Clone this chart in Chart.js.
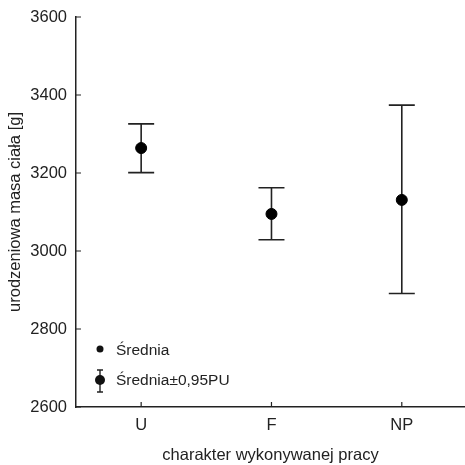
<!DOCTYPE html>
<html lang="pl">
<head>
    <meta charset="UTF-8">
    <title>urodzeniowa masa ciała</title>
    <script src="https://cdn.jsdelivr.net/npm/chart.js"></script>
    <style>
        html, body { margin: 0; padding: 0; background: #fff; }
        #wrap { width: 465px; height: 465px; }
    </style>
</head>
<body>
    <div id="wrap"><canvas id="chart"></canvas></div>

    <script>
        // data
        const categories = ['U', 'F', 'NP'];
        const means = [3264, 3095, 3131];
        const lower = [3201, 3029, 2891];
        const upper = [3326, 3162, 3374];
        const yTicks = [2600, 2800, 3000, 3200, 3400, 3600];

        const FONT = 'Arial, "Liberation Sans", sans-serif';
        const INK = '#222';

        // error bars + inward ticks + legend
        const extras = {
            id: 'extras',
            beforeDatasetsDraw(chart) {
                const ctx = chart.ctx;
                const x = chart.scales.x, y = chart.scales.y;
                ctx.save();
                ctx.strokeStyle = INK;
                ctx.lineWidth = 1.6;
                // error bars
                means.forEach((m, i) => {
                    const px = x.getPixelForValue(i);
                    const lo = y.getPixelForValue(lower[i]);
                    const hi = y.getPixelForValue(upper[i]);
                    ctx.beginPath();
                    ctx.moveTo(px, lo); ctx.lineTo(px, hi);
                    ctx.moveTo(px - 13, lo); ctx.lineTo(px + 13, lo);
                    ctx.moveTo(px - 13, hi); ctx.lineTo(px + 13, hi);
                    ctx.stroke();
                });
                // inward ticks
                ctx.lineWidth = 1.2;
                ctx.beginPath();
                yTicks.forEach(v => {
                    const py = y.getPixelForValue(v);
                    ctx.moveTo(x.left, py); ctx.lineTo(x.left + 5, py);
                });
                categories.forEach((c, i) => {
                    const px = x.getPixelForValue(i);
                    ctx.moveTo(px, y.bottom); ctx.lineTo(px, y.bottom - 5);
                });
                ctx.stroke();
                ctx.restore();
            },
            afterDraw(chart) {
                const ctx = chart.ctx;
                ctx.save();
                ctx.fillStyle = '#111';
                ctx.strokeStyle = INK;
                // legend: mean
                ctx.beginPath();
                ctx.arc(100, 349, 3.5, 0, Math.PI * 2);
                ctx.fill();
                // legend: mean with error bar
                ctx.lineWidth = 1.4;
                ctx.beginPath();
                ctx.moveTo(100, 370); ctx.lineTo(100, 392);
                ctx.moveTo(97, 370); ctx.lineTo(103, 370);
                ctx.moveTo(97, 392); ctx.lineTo(103, 392);
                ctx.stroke();
                ctx.beginPath();
                ctx.arc(100, 380, 5, 0, Math.PI * 2);
                ctx.fill();
                ctx.font = '15.5px ' + FONT;
                ctx.fillStyle = '#222';
                ctx.textBaseline = 'middle';
                ctx.fillText('Średnia', 116, 351);
                ctx.fillText('Średnia±0,95PU', 116, 381);
                ctx.restore();
            }
        };

        new Chart(document.getElementById('chart'), {
            type: 'scatter',
            data: {
                datasets: [{
                    label: 'Średnia',
                    data: means.map((m, i) => ({ x: i, y: m })),
                    backgroundColor: '#000',
                    borderColor: '#000',
                    pointRadius: 5.5,
                    pointHoverRadius: 5.5
                }]
            },
            options: {
                responsive: true,
                maintainAspectRatio: false,
                animation: false,
                layout: { autoPadding: false, padding: { top: 17, right: 0, left: 0, bottom: 0 } },
                plugins: {
                    legend: { display: false },
                    tooltip: { enabled: false }
                },
                scales: {
                    x: {
                        type: 'linear',
                        min: -0.5,
                        max: 2.485,
                        afterBuildTicks: s => { s.ticks = categories.map((c, i) => ({ value: i })); },
                        afterFit: s => { s.height = 58; s.paddingLeft = 0; s.paddingRight = 0; },
                        ticks: {
                            callback: (v) => categories[v],
                            color: '#222',
                            font: { family: FONT, size: 16.5 },
                            padding: 9
                        },
                        grid: { display: false, drawTicks: false },
                        border: { display: true, color: INK, width: 1.5 },
                        title: {
                            display: true,
                            text: 'charakter wykonywanej pracy',
                            color: '#222',
                            font: { family: FONT, size: 16.5 },
                            padding: { top: 8, bottom: 0 }
                        }
                    },
                    y: {
                        min: 2600,
                        max: 3600,
                        afterBuildTicks: s => { s.ticks = yTicks.map(v => ({ value: v })); },
                        afterFit: s => { s.width = 76; s.paddingTop = 0; s.paddingBottom = 0; },
                        ticks: {
                            callback: (v) => String(v),
                            color: '#222',
                            font: { family: FONT, size: 16.5 },
                            padding: 9
                        },
                        grid: { display: false, drawTicks: false },
                        border: { display: true, color: INK, width: 1.5 },
                        title: {
                            display: true,
                            text: 'urodzeniowa masa ciała [g]',
                            color: '#222',
                            font: { family: FONT, size: 16.5 },
                            padding: { top: 6, bottom: 0 }
                        }
                    }
                }
            },
            plugins: [extras]
        });
    </script>
</body>
</html>
